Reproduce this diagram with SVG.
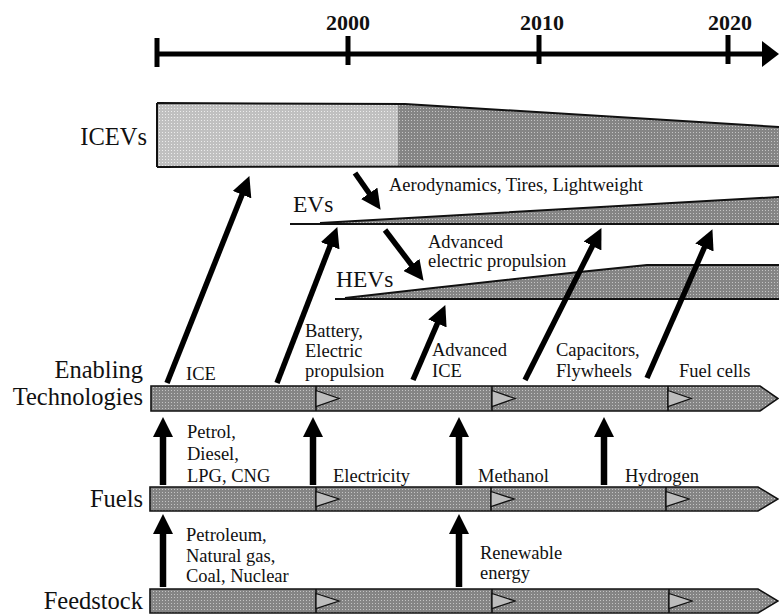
<svg xmlns="http://www.w3.org/2000/svg" width="779" height="614" viewBox="0 0 779 614">
<style>
text{font-family:"Liberation Serif","Times New Roman",serif;fill:#111}
.big{font-size:24.5px}
.yr{font-size:22px;font-weight:bold;text-anchor:middle}
.lb{font-size:18.5px}
.end{text-anchor:end}
.bar{fill:url(#dk);stroke:#111;stroke-width:1.6}
.div{stroke:#111;stroke-width:1.6}
.tri{fill:#bdbdbd;stroke:#111;stroke-width:1.3}
.arr{stroke:#000;stroke-width:5.5;fill:none;marker-end:url(#ah)}
.up{stroke-width:6.5}
.axis{stroke:#000;stroke-width:5;fill:none}
</style>
<defs>
<pattern id="dk" width="3" height="3" patternUnits="userSpaceOnUse"><rect width="3" height="3" fill="#858585"/><rect width="1" height="1" fill="#c4c4c4"/></pattern>
<pattern id="lt" width="3" height="3" patternUnits="userSpaceOnUse"><rect width="3" height="3" fill="#c0c0c0"/><rect width="1" height="1" fill="#ececec"/></pattern>
<marker id="ah" markerUnits="userSpaceOnUse" markerWidth="20" markerHeight="20" viewBox="0 0 20 20" refX="3" refY="10" orient="auto"><path d="M0,0 L20,10 L0,20 z" fill="#000"/></marker>
</defs>

<g id="timeline">
<line class="axis" x1="157" y1="54" x2="765" y2="54"/>
<line class="axis" x1="157" y1="38" x2="157" y2="67"/>
<line class="axis" x1="348" y1="36" x2="348" y2="65"/>
<line class="axis" x1="539" y1="35" x2="539" y2="64"/>
<line class="axis" x1="728" y1="35" x2="728" y2="64"/>
<polygon points="762,41 779,54 762,67" fill="#000"/>
<text class="yr" x="348" y="30">2000</text>
<text class="yr" x="542" y="30">2010</text>
<text class="yr" x="730" y="30">2020</text>
</g>

<g id="icevs">
<path d="M398,103 L405,104 L779,127 L779,167 L398,167 z" fill="url(#dk)"/>
<rect x="157" y="103" width="241" height="64" fill="url(#lt)"/>
<path d="M157,103 L405,104 L779,127 M157,167 L779,166 M157,103 L157,167" stroke="#111" stroke-width="2" fill="none"/>
<text class="big end" x="147" y="145">ICEVs</text>
</g>

<g id="evs">
<path d="M320,223 L779,197 L779,224 z" fill="url(#dk)"/>
<path d="M320,223 L779,197 M290,224 L779,224" stroke="#111" stroke-width="2" fill="none"/>
<text class="big" x="293" y="212" style="font-size:23.5px">EVs</text>
</g>

<g id="hevs">
<path d="M345,298 Q500,280 647,265 L779,265 L779,299 z" fill="url(#dk)"/>
<path d="M345,298 Q500,280 647,265 L779,265 M335,299 L779,299" stroke="#111" stroke-width="2" fill="none"/>
<text class="big" x="336" y="287" style="font-size:23.5px">HEVs</text>
</g>

<g id="enabling">
<polygon class="bar" points="151,386 760,386 778,398.5 760,411 151,411"/>
<line class="div" x1="316" y1="386" x2="316" y2="411"/>
<line class="div" x1="492" y1="386" x2="492" y2="411"/>
<line class="div" x1="668" y1="386" x2="668" y2="411"/>
<polygon class="tri" points="316,390.5 339,398.5 316,406.5"/>
<polygon class="tri" points="492,390.5 515,398.5 492,406.5"/>
<polygon class="tri" points="668,390.5 691,398.5 668,406.5"/>
<text class="big end" x="143" y="378">Enabling</text>
<text class="big end" x="143" y="405">Technologies</text>
<text class="lb" x="186" y="380">ICE</text>
<text class="lb" x="305" y="337">Battery,</text>
<text class="lb" x="305" y="357">Electric</text>
<text class="lb" x="305" y="377">propulsion</text>
<text class="lb" x="432" y="356">Advanced</text>
<text class="lb" x="432" y="377">ICE</text>
<text class="lb" x="556" y="356">Capacitors,</text>
<text class="lb" x="556" y="377">Flywheels</text>
<text class="lb" x="679" y="377">Fuel cells</text>
</g>

<g id="fuels">
<polygon class="bar" points="150,487 758,487 778,499 758,511 150,511"/>
<line class="div" x1="316" y1="487" x2="316" y2="511"/>
<line class="div" x1="491" y1="487" x2="491" y2="511"/>
<line class="div" x1="666" y1="487" x2="666" y2="511"/>
<polygon class="tri" points="316,491.5 339,499 316,506.5"/>
<polygon class="tri" points="491,491.5 514,499 491,506.5"/>
<polygon class="tri" points="666,491.5 689,499 666,506.5"/>
<text class="big end" x="143" y="507">Fuels</text>
<text class="lb" x="187" y="438">Petrol,</text>
<text class="lb" x="187" y="460">Diesel,</text>
<text class="lb" x="187" y="482">LPG, CNG</text>
<text class="lb" x="333" y="482">Electricity</text>
<text class="lb" x="478" y="482">Methanol</text>
<text class="lb" x="625" y="482">Hydrogen</text>
</g>

<g id="feedstock">
<polygon class="bar" points="150,589 758,589 778,601 758,613 150,613"/>
<line class="div" x1="316" y1="589" x2="316" y2="613"/>
<line class="div" x1="492" y1="589" x2="492" y2="613"/>
<line class="div" x1="669" y1="589" x2="669" y2="613"/>
<polygon class="tri" points="316,593.5 339,601 316,608.5"/>
<polygon class="tri" points="492,593.5 515,601 492,608.5"/>
<polygon class="tri" points="669,593.5 692,601 669,608.5"/>
<text class="big end" x="143" y="609">Feedstock</text>
<text class="lb" x="186" y="541">Petroleum,</text>
<text class="lb" x="186" y="562">Natural gas,</text>
<text class="lb" x="186" y="582">Coal, Nuclear</text>
<text class="lb" x="480" y="559">Renewable</text>
<text class="lb" x="480" y="579">energy</text>
</g>

<g id="connectors">
<line class="arr" x1="167" y1="383" x2="243.1" y2="191.9"/>
<line class="arr" x1="277" y1="383" x2="331.2" y2="242.9"/>
<line class="arr" x1="413" y1="380" x2="438.6" y2="320.7"/>
<line class="arr" x1="525" y1="380" x2="593.8" y2="243.3"/>
<line class="arr" x1="647" y1="378" x2="705.6" y2="244.7"/>
<line class="arr" x1="355" y1="173" x2="370.9" y2="195.8"/>
<line class="arr" x1="385" y1="230" x2="413.3" y2="267.3"/>
<line class="arr up" x1="163" y1="485" x2="163" y2="434"/>
<line class="arr up" x1="313" y1="485" x2="313" y2="434"/>
<line class="arr up" x1="459" y1="485" x2="459" y2="434"/>
<line class="arr up" x1="604" y1="485" x2="604" y2="434"/>
<line class="arr up" x1="163" y1="587" x2="163" y2="531"/>
<line class="arr up" x1="459" y1="587" x2="459" y2="531"/>
</g>

<g id="notes">
<text class="lb" x="389" y="191">Aerodynamics, Tires, Lightweight</text>
<text class="lb" x="428" y="248">Advanced</text>
<text class="lb" x="428" y="267">electric propulsion</text>
</g>
</svg>
